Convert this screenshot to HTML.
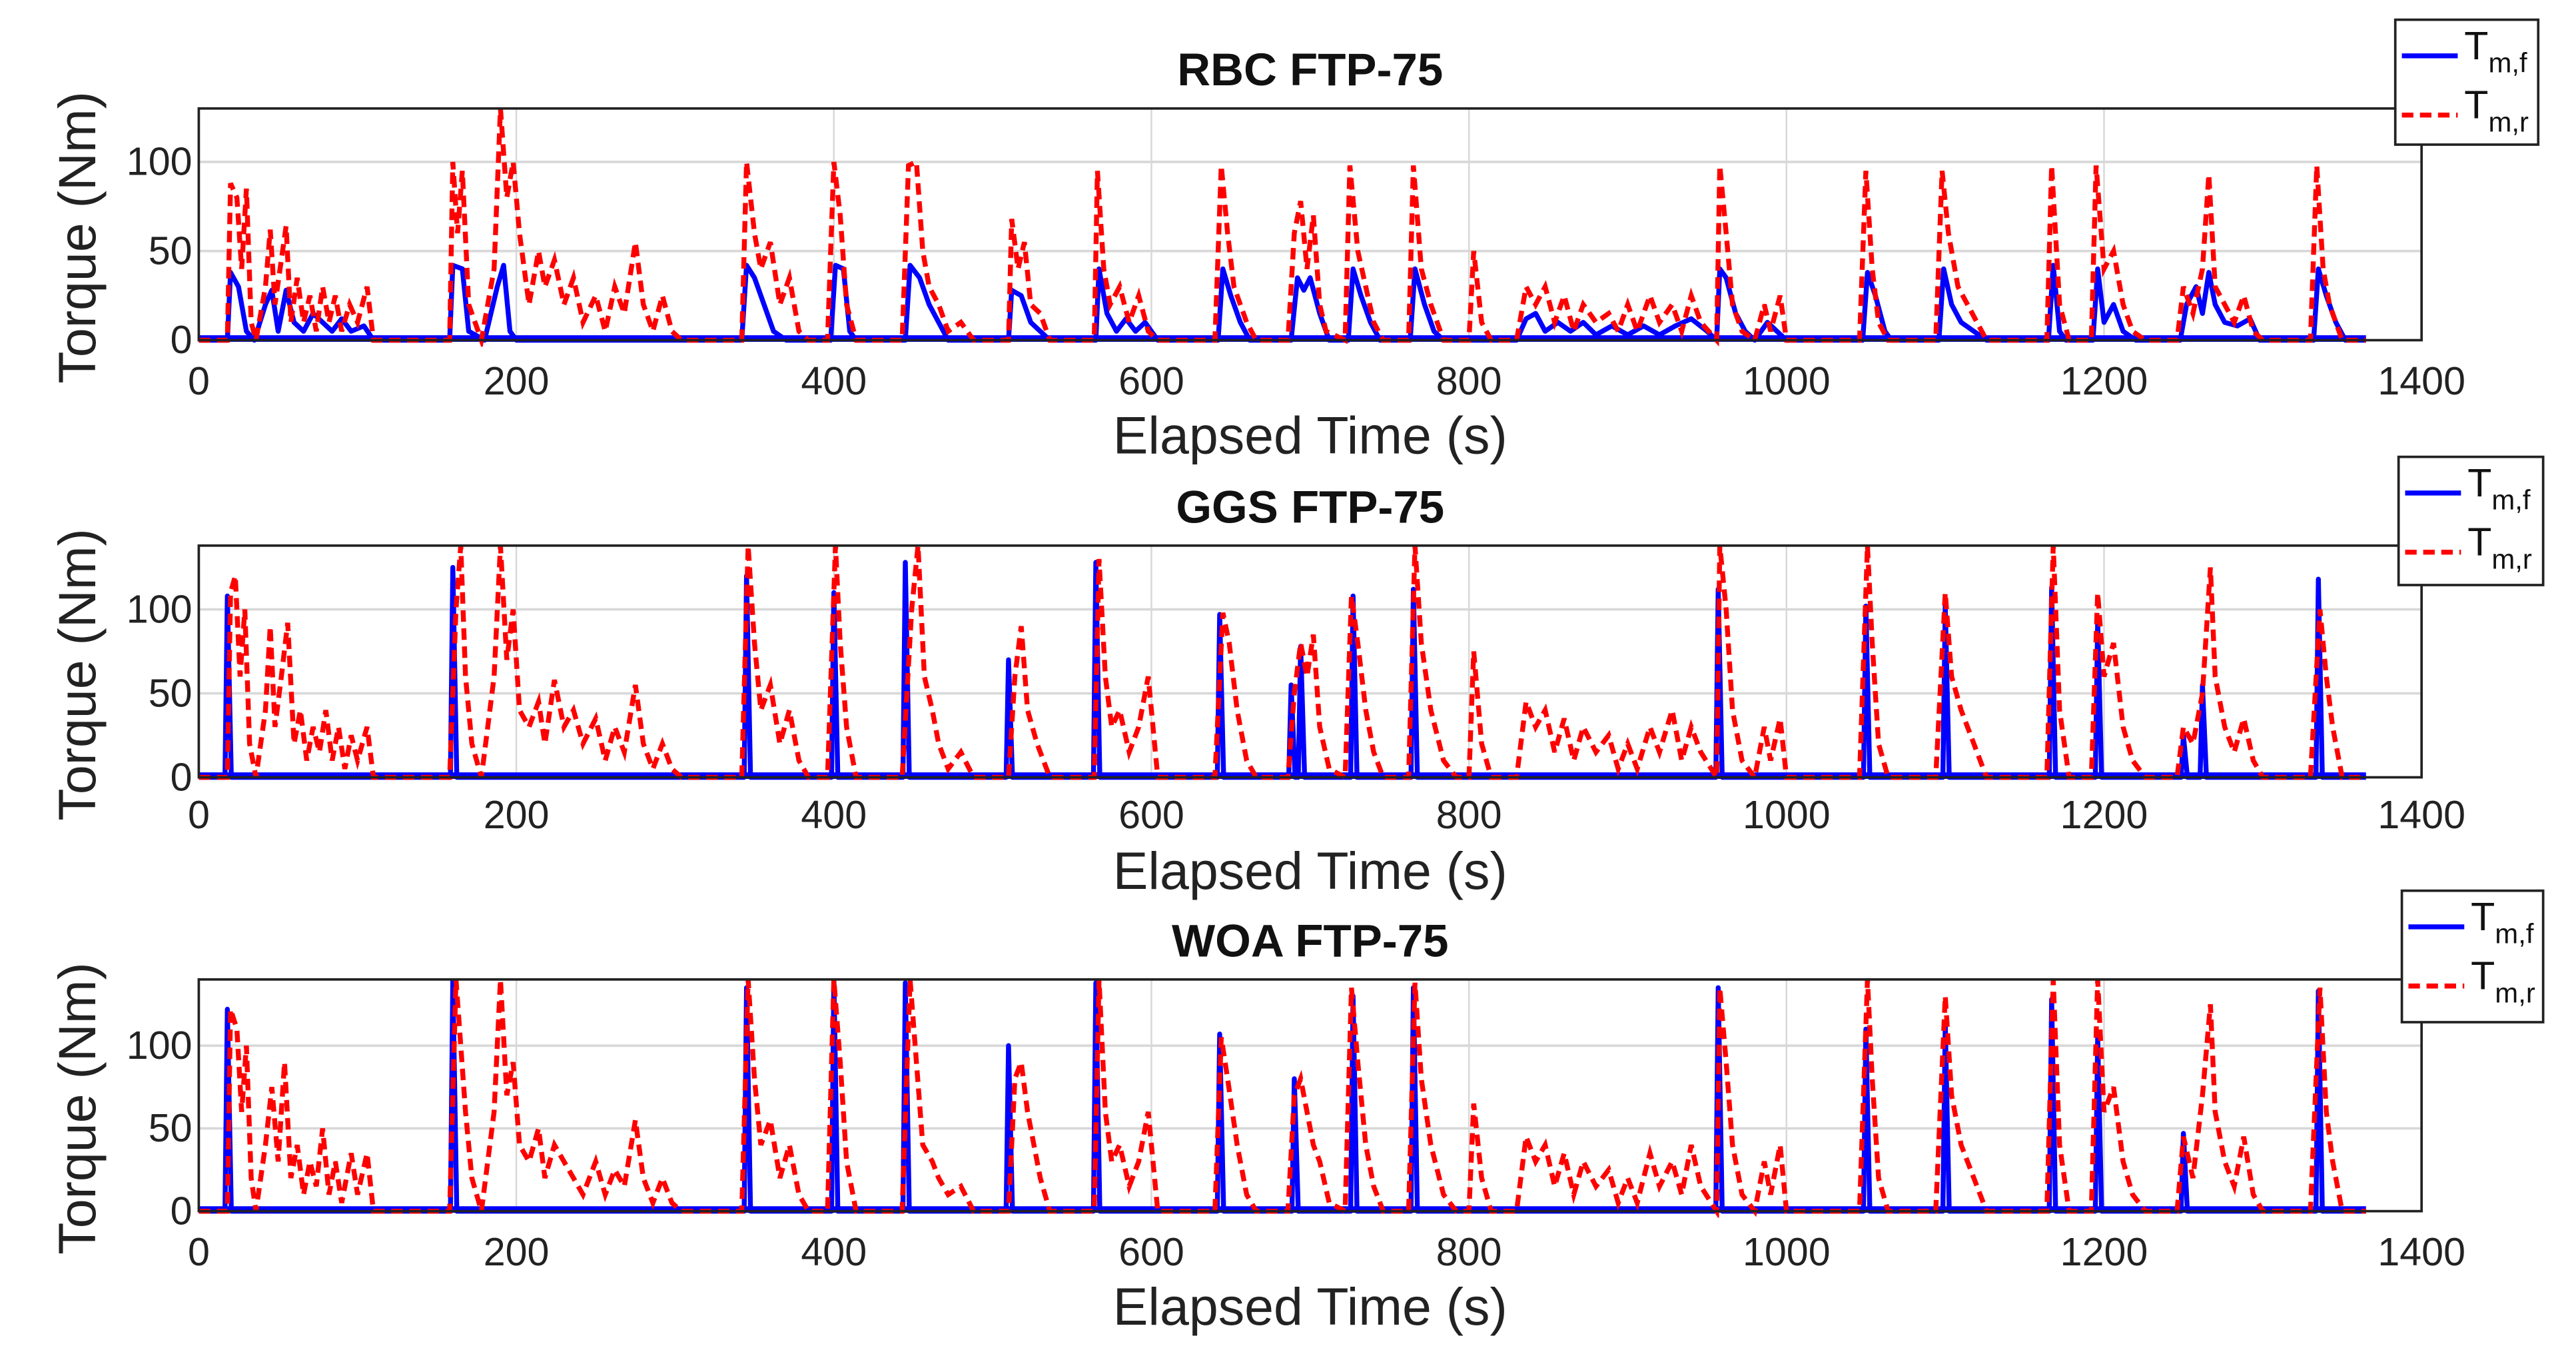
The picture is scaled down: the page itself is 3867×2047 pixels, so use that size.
<!DOCTYPE html>
<html><head><meta charset="utf-8"><style>
html,body{margin:0;padding:0;background:#fff;}
svg{display:block;font-family:"Liberation Sans",Arial,sans-serif;}
</style></head><body>
<svg id="chart" width="3867" height="2047" viewBox="0 0 1568 830" preserveAspectRatio="none" xmlns="http://www.w3.org/2000/svg"></svg>
<script>
const xTicks=[0,200,400,600,800,1000,1200,1400];
const yTicks=[0,50,100];
const panelTitles=["RBC FTP-75","GGS FTP-75","WOA FTP-75"];
const yMaxes=[130,138,140];
const rbcRear=[[0,0],[18,0],[20,88],[24,80],[27,40],[30,85],[33,10],[36,0],[42,30],[45,62],[48,20],[52,45],[55,64],[58,10],[62,35],[66,10],[70,25],[74,5],[78,30],[82,10],[86,25],[90,5],[95,20],[100,10],[106,30],[110,0],[158,0],[160,100],[163,60],[166,95],[170,20],[178,0],[186,40],[190,130],[194,80],[198,100],[202,60],[208,20],[214,50],[218,30],[224,45],[230,20],[236,35],[242,10],[250,25],[256,5],[262,30],[268,15],[275,55],[280,20],[286,5],[292,25],[298,5],[304,0],[342,0],[345,100],[350,60],[354,40],[360,55],[366,20],[372,35],[378,5],[384,0],[396,0],[400,100],[404,70],[408,20],[414,0],[443,0],[447,98],[452,100],[456,50],[460,30],[466,20],[472,5],[480,10],[488,0],[510,0],[512,68],[516,40],[520,55],[524,20],[530,15],[536,0],[564,0],[566,95],[570,40],[574,20],[580,30],[586,10],[592,25],[598,5],[604,0],[640,0],[644,98],[648,60],[652,30],[660,10],[666,0],[686,0],[690,60],[694,78],[698,40],[702,70],[706,20],[710,5],[722,0],[725,98],[730,50],[735,30],[740,10],[746,0],[762,0],[765,98],[770,40],[776,20],[784,0],[800,0],[803,50],[808,10],[814,0],[830,0],[836,30],[842,20],[848,30],[854,10],[860,25],[866,5],[872,20],[880,10],[888,15],[894,5],[900,20],[906,5],[914,25],[920,10],[928,20],[934,5],[940,25],[946,10],[956,0],[958,98],[962,60],[966,20],[972,5],[980,0],[986,20],[990,5],[996,25],[1000,0],[1046,0],[1050,95],[1054,40],[1058,10],[1064,0],[1094,0],[1098,95],[1102,60],[1108,30],[1114,20],[1120,10],[1126,0],[1164,0],[1167,98],[1172,20],[1178,0],[1192,0],[1195,98],[1200,40],[1206,50],[1212,20],[1218,5],[1226,0],[1246,0],[1250,30],[1256,15],[1262,40],[1266,93],[1270,30],[1276,20],[1282,10],[1288,25],[1294,5],[1300,0],[1330,0],[1334,98],[1338,40],[1342,20],[1350,0],[1365,0]];
const rbcFront=[[0,0],[18,0],[20,38],[25,30],[30,5],[35,0],[42,20],[46,28],[50,5],[55,28],[60,10],[66,5],[72,15],[78,10],[84,5],[90,12],[96,5],[104,8],[110,0],[158,0],[160,42],[166,40],[170,5],[180,0],[188,30],[192,42],[196,5],[200,0],[342,0],[345,42],[350,35],[356,20],[362,5],[370,0],[398,0],[401,42],[406,40],[410,5],[414,0],[445,0],[448,42],[454,35],[460,20],[466,10],[472,0],[510,0],[512,28],[518,25],[524,10],[530,5],[536,0],[565,0],[567,40],[572,15],[578,5],[584,12],[590,5],[596,10],[604,0],[642,0],[645,40],[650,25],[656,10],[662,0],[688,0],[692,35],[696,28],[700,35],[706,15],[712,0],[724,0],[727,40],[732,25],[738,10],[744,0],[763,0],[766,40],[772,20],[778,5],[784,0],[830,0],[836,12],[842,15],[848,5],[856,10],[864,5],[872,10],[880,3],[890,8],[900,3],[910,8],[920,3],[930,8],[940,12],[950,5],[956,0],[958,40],[962,35],[968,15],[974,5],[980,0],[988,10],[994,5],[1000,0],[1048,0],[1051,38],[1056,25],[1062,5],[1066,0],[1096,0],[1099,40],[1104,20],[1110,10],[1118,5],[1126,0],[1165,0],[1168,42],[1172,5],[1176,0],[1193,0],[1196,40],[1200,10],[1206,20],[1212,5],[1220,0],[1248,0],[1252,20],[1258,30],[1262,15],[1266,38],[1270,20],[1276,10],[1284,8],[1292,12],[1298,0],[1332,0],[1335,40],[1340,25],[1346,10],[1352,0],[1365,0]];
const ggsRear=[[0,0],[18,0],[20,110],[23,120],[26,60],[29,100],[32,20],[36,0],[42,40],[45,90],[48,30],[52,60],[56,92],[60,20],[64,40],[68,10],[72,30],[76,15],[80,40],[84,10],[88,30],[92,5],[96,25],[100,10],[106,30],[110,0],[158,0],[162,100],[165,138],[168,60],[172,20],[178,0],[186,60],[190,138],[194,70],[198,100],[202,40],[208,30],[214,45],[218,20],[224,58],[230,30],[236,40],[242,20],[250,35],[256,10],[262,30],[268,15],[275,55],[280,20],[286,5],[292,20],[298,5],[304,0],[342,0],[346,138],[350,80],[354,40],[360,55],[366,20],[372,40],[378,10],[384,0],[396,0],[401,138],[404,80],[408,30],[414,0],[443,0],[449,100],[453,138],[457,60],[462,40],[466,20],[472,5],[480,15],[488,0],[510,0],[514,60],[518,90],[522,40],[528,20],[536,0],[564,0],[567,130],[571,60],[575,30],[580,40],[586,15],[592,30],[598,60],[604,0],[640,0],[645,98],[649,80],[654,40],[660,10],[666,0],[686,0],[690,50],[694,80],[698,60],[702,85],[706,30],[712,5],[722,0],[726,108],[730,80],[735,40],[740,15],[746,0],[762,0],[766,138],[770,80],[776,40],[784,10],[792,0],[800,0],[803,75],[808,20],[814,0],[830,0],[836,45],[842,30],[848,40],[854,15],[860,35],[866,10],[872,30],[880,15],[888,25],[894,5],[900,20],[906,5],[914,30],[920,15],[928,40],[934,10],[940,30],[946,15],[956,0],[958,138],[962,100],[966,40],[972,10],[980,0],[986,30],[990,10],[996,35],[1000,0],[1046,0],[1051,138],[1054,80],[1058,20],[1064,0],[1094,0],[1100,110],[1104,60],[1110,40],[1114,30],[1120,15],[1126,0],[1164,0],[1168,138],[1172,40],[1178,0],[1192,0],[1196,110],[1200,60],[1206,80],[1212,30],[1218,10],[1226,0],[1246,0],[1250,30],[1256,20],[1262,50],[1267,125],[1270,60],[1276,30],[1282,15],[1288,35],[1294,10],[1300,0],[1330,0],[1336,100],[1340,60],[1344,30],[1350,0],[1365,0]];
const ggsFrontT=[18,160,345,400,445,510,565,643,688,694,727,765,957,1050,1100,1167,1196,1250,1262,1335];
const ggsFrontV=[108,125,120,110,128,70,128,97,55,78,108,112,112,102,102,113,93,25,55,118];
const woaRear=[[0,0],[18,0],[20,122],[24,110],[27,60],[30,100],[33,20],[36,0],[42,40],[46,75],[50,30],[54,90],[58,20],[62,40],[66,10],[70,30],[74,15],[78,50],[82,10],[86,30],[90,5],[96,35],[100,10],[106,35],[110,0],[158,0],[162,140],[165,100],[168,60],[172,20],[178,0],[186,60],[190,140],[194,70],[198,90],[202,40],[208,30],[214,50],[218,20],[224,40],[230,30],[236,20],[242,10],[250,30],[256,10],[262,25],[268,15],[275,55],[280,20],[286,5],[292,20],[298,5],[304,0],[342,0],[346,140],[350,80],[354,40],[360,55],[366,20],[372,40],[378,10],[384,0],[396,0],[400,140],[404,90],[408,30],[414,0],[443,0],[448,140],[452,90],[456,40],[462,30],[466,20],[472,10],[480,15],[488,0],[510,0],[514,80],[518,90],[522,60],[526,40],[530,20],[536,0],[564,0],[567,140],[571,60],[575,30],[580,40],[586,15],[592,30],[598,60],[604,0],[640,0],[644,105],[648,80],[654,40],[660,10],[666,0],[686,0],[690,70],[694,80],[698,60],[702,40],[706,30],[712,5],[722,0],[726,135],[730,90],[735,40],[740,15],[746,0],[762,0],[766,138],[770,80],[776,40],[784,10],[792,0],[800,0],[803,65],[808,20],[814,0],[830,0],[836,45],[842,30],[848,40],[854,15],[860,35],[866,10],[872,30],[880,15],[888,25],[894,5],[900,20],[906,5],[914,35],[920,15],[928,30],[934,10],[940,40],[946,15],[956,0],[958,135],[962,90],[966,40],[972,10],[980,0],[986,30],[990,10],[996,40],[1000,0],[1046,0],[1051,140],[1054,80],[1058,20],[1064,0],[1094,0],[1100,130],[1104,70],[1110,40],[1114,30],[1120,15],[1126,0],[1164,0],[1168,140],[1172,40],[1178,0],[1192,0],[1196,140],[1200,60],[1206,75],[1212,30],[1218,10],[1226,0],[1246,0],[1250,45],[1256,20],[1262,70],[1267,125],[1270,60],[1276,30],[1282,15],[1288,45],[1294,10],[1300,0],[1330,0],[1336,135],[1340,60],[1344,30],[1350,0],[1365,0]];
const woaFrontT=[18,160,345,400,445,510,565,643,690,727,765,957,1050,1100,1167,1196,1250,1335];
const woaFrontV=[122,140,135,140,138,100,138,107,80,130,135,135,110,113,128,105,47,133];

const NS="http://www.w3.org/2000/svg";
const svg=document.getElementById('chart');
function mk(tag,attrs,parent){const e=document.createElementNS(NS,tag);for(const k in attrs)e.setAttribute(k,attrs[k]);(parent||svg).appendChild(e);return e;}
const X0=121,X1=1474;
const panels=[{top:66,bottom:207,titleY:52,tickY:240,labY:276,leg:[1458,12,87,76]},
{top:332,bottom:473,titleY:318,tickY:504,labY:541,leg:[1460,278,88,78]},
{top:596,bottom:737,titleY:582,tickY:770,labY:806,leg:[1462,542,86,80]}];
function spikes(T,V){const p=[[0,0]];T.forEach((t,i)=>{p.push([t-1.5,0],[t,V[i]],[t+2.5,0]);});p.push([1365,0]);return p;}
const seriesFront=[rbcFront,spikes(ggsFrontT,ggsFrontV),spikes(woaFrontT,woaFrontV)];
const seriesRear=[rbcRear,ggsRear,woaRear];
panels.forEach((P,pi)=>{
  const ymax=yMaxes[pi];
  const xs=t=>X0+(t/1400)*(X1-X0);
  const ys=v=>P.bottom-(v/ymax)*(P.bottom-P.top);
  const g=mk('g',{});
  
  
  xTicks.slice(1,-1).forEach(t=>{const l=mk('line',{x1:xs(t),x2:xs(t),y1:P.top,y2:P.bottom,stroke:'#d8d8d8','stroke-width':1},g);
    });
  yTicks.slice(1).forEach(v=>{const l=mk('line',{x1:X0,x2:X1,y1:ys(v),y2:ys(v),stroke:'#d8d8d8','stroke-width':1.5},g);
    });
  const clip=mk('clipPath',{id:'c'+pi},g);mk('rect',{x:X0,y:P.top,width:X1-X0,height:P.bottom-P.top+4},clip);
  const f=mk('polyline',{points:seriesFront[pi].map(p=>xs(p[0])+','+ys(p[1])).join(' '),fill:'none',stroke:'#0000ff','stroke-width':3,'stroke-linejoin':'round','clip-path':'url(#c'+pi+')'},g);
  
  const base=mk('line',{x1:X0,x2:xs(1365),y1:P.bottom-1,y2:P.bottom-1,stroke:'#0000ff','stroke-width':4},g);
  
  const r=mk('polyline',{points:seriesRear[pi].map(p=>xs(p[0])+','+ys(p[1])).join(' '),fill:'none',stroke:'#ff0000','stroke-width':3,'stroke-dasharray':'7,4','clip-path':'url(#c'+pi+')'},g);
  
  const box=mk('rect',{x:X0,y:P.top,width:X1-X0,height:P.bottom-P.top,fill:'none',stroke:'#222','stroke-width':1.5},g);
  
  xTicks.forEach(t=>{const tx=mk('text',{x:xs(t),y:P.tickY,'font-size':24,'text-anchor':'middle',fill:'#222'},g);tx.textContent=t;
    });
  yTicks.forEach(v=>{const tx=mk('text',{x:X0-4,y:ys(v)+8,'font-size':24,'text-anchor':'end',fill:'#222'},g);tx.textContent=v;
    });
  const ti=mk('text',{x:(X0+X1)/2,y:P.titleY,'font-size':28,'font-weight':'bold','text-anchor':'middle',fill:'#111'},g);ti.textContent=panelTitles[pi];
  
  const xl=mk('text',{x:(X0+X1)/2,y:P.labY,'font-size':32,'text-anchor':'middle',fill:'#222'},g);xl.textContent='Elapsed Time (s)';
  
  const cy=(P.top+P.bottom)/2+8;
  const yl=mk('text',{x:58,y:cy,'font-size':32,'text-anchor':'middle',fill:'#222',transform:'rotate(-90 58 '+cy+')'},g);yl.textContent='Torque (Nm)';
  
  const [lx,ly,lw,lh]=P.leg;
  const lg=mk('g',{},g);
  mk('rect',{x:lx,y:ly,width:lw,height:lh,fill:'#fff',stroke:'#222','stroke-width':1.5},lg);
  [['#0000ff','','f',ly+22],['#ff0000','7,4','r',ly+58]].forEach(e=>{
    const li=mk('line',{x1:lx+4,x2:lx+38,y1:e[3],y2:e[3],stroke:e[0],'stroke-width':3,'stroke-dasharray':e[1]||'none'},lg);
    
    const t=mk('text',{x:lx+42,y:e[3]+2,'font-size':24,fill:'#111'},lg);
    
    t.appendChild(document.createTextNode('T'));
    const s=mk('tspan',{'font-size':17,dy:8},t);s.textContent='m,'+e[2];
  });
});
</script>
</body></html>
